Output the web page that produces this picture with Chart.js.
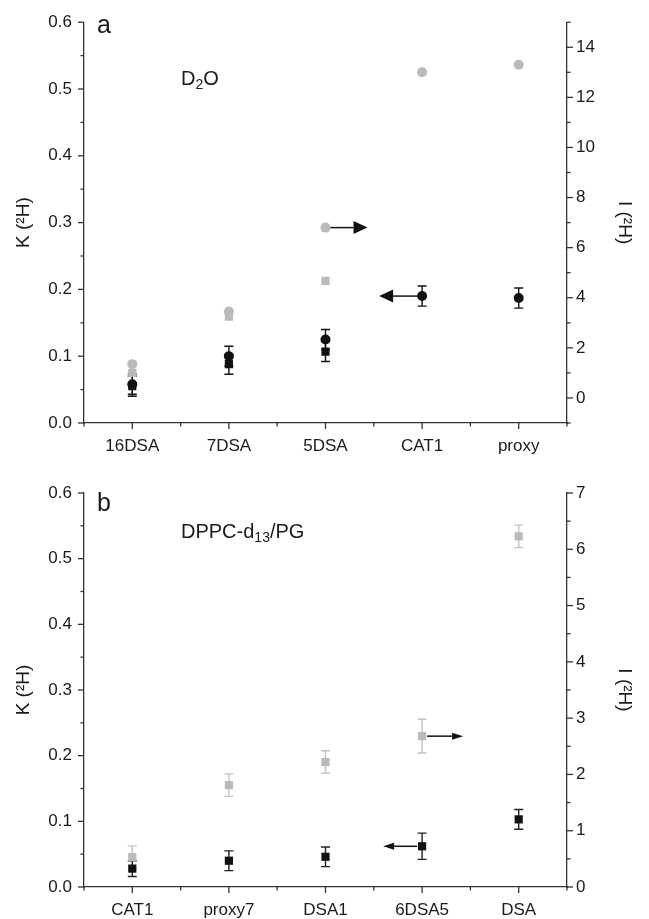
<!DOCTYPE html>
<html>
<head>
<meta charset="utf-8">
<script src="https://cdn.jsdelivr.net/npm/chart.js@4.4.1/dist/chart.umd.min.js"></script>
<style>
  body { margin: 0; background: #fff; }
  #wrap { position: relative; width: 649px; height: 919px; font-family: "Liberation Sans", Arial, sans-serif; color: #1a1a1a; }
  .box { position: absolute; left: 0; width: 649px; }
  .lbl { position: absolute; white-space: nowrap; line-height: 1; }
  .lbl sub { font-size: 70%; vertical-align: -0.3em; line-height: 0; }
</style>
</head>
<body>
<div id="wrap">
  <div class="box" style="top:0;height:460px"><canvas id="chartA"></canvas></div>
  <div class="box" style="top:460px;height:459px"><canvas id="chartB"></canvas></div>
  <div class="lbl" style="left:97px;top:12px;font-size:25px">a</div>
  <div class="lbl" style="left:181px;top:68px;font-size:20px">D<sub>2</sub>O</div>
  <div class="lbl" style="left:97px;top:490px;font-size:25px">b</div>
  <div class="lbl" style="left:181px;top:521px;font-size:20px">DPPC-d<sub>13</sub>/PG</div>
</div>
<script>
// ---- data (panel a, D2O) ----
const probesA = ['16DSA', '7DSA', '5DSA', 'CAT1', 'proxy'];
const kCircleA = [0.058, 0.100, 0.125, 0.190, 0.187];
const kCircleErrA = [0.015, 0.015, 0.015, 0.015, 0.015];
const kSquareA = [0.055, 0.088, 0.107, null, null];
const kSquareErrA = [0.015, 0.015, 0.015, 0, 0];
const iCircleA = [1.35, 3.45, 6.8, 13.0, 13.3];
const iSquareA = [1.0, 3.25, 4.67, null, null];
const leftTicksA = [0, 0.1, 0.2, 0.3, 0.4, 0.5, 0.6];
const rightTicksA = [0, 2, 4, 6, 8, 10, 12, 14];

// ---- data (panel b, DPPC-d13/PG) ----
const probesB = ['CAT1', 'proxy7', 'DSA1', '6DSA5', 'DSA'];
const kSquareB = [0.028, 0.040, 0.046, 0.062, 0.103];
const kSquareErrB = [0.012, 0.015, 0.015, 0.020, 0.015];
const iSquareB = [0.53, 1.81, 2.22, 2.68, 6.23];
const iSquareErrB = [0.2, 0.2, 0.2, 0.3, 0.2];
const leftTicksB = [0, 0.1, 0.2, 0.3, 0.4, 0.5, 0.6];
const rightTicksB = [0, 1, 2, 3, 4, 5, 6, 7];

const BLACK = '#111';
const GRAY = '#bababa';
const FONT = "'Liberation Sans', Arial, sans-serif";

const toPoints = (vals, errs) => {
  let pts = [];
  for (let i = 0; i < vals.length; i++) {
    if (vals[i] == null) continue;
    pts.push({ x: i + 1, y: vals[i], err: errs ? errs[i] : 0 });
  }
  return pts;
};

// error bars + arrows + outward ticks, all through the chart scales
const extras = {
  id: 'extras',
  beforeDatasetsDraw(chart, args, opts) {
    const ctx = chart.ctx;
    chart.data.datasets.forEach((ds) => {
      const ys = chart.scales[ds.yAxisID];
      const xs = chart.scales.x;
      ctx.save();
      ctx.strokeStyle = ds.errColor || ds.backgroundColor;
      ctx.lineWidth = 1.4;
      ds.data.forEach((p) => {
        if (!p.err) return;
        const x = xs.getPixelForValue(p.x);
        const y1 = ys.getPixelForValue(p.y + p.err);
        const y2 = ys.getPixelForValue(p.y - p.err);
        ctx.beginPath();
        ctx.moveTo(x, y1); ctx.lineTo(x, y2);
        ctx.moveTo(x - 4.5, y1); ctx.lineTo(x + 4.5, y1);
        ctx.moveTo(x - 4.5, y2); ctx.lineTo(x + 4.5, y2);
        ctx.stroke();
      });
      ctx.restore();
    });
  },
  afterDraw(chart, args, opts) {
    const ctx = chart.ctx;
    ctx.save();
    ctx.strokeStyle = '#333';
    ctx.lineWidth = 1.3;
    // ticks
    (opts.ticks || []).forEach((t) => {
      const s = chart.scales[t.id];
      const vals = [];
      for (let v = s.min; v <= s.max + 1e-9; v += t.minor) vals.push(+v.toFixed(6));
      vals.forEach((v) => {
        const major = t.major.some((m) => Math.abs(m - v) < 1e-6);
        const len = major ? 6 : 3.5;
        const p = s.getPixelForValue(v);
        ctx.beginPath();
        if (s.position === 'left') { ctx.moveTo(s.right, p); ctx.lineTo(s.right - len, p); }
        else if (s.position === 'right') { ctx.moveTo(s.left, p); ctx.lineTo(s.left + len, p); }
        else { ctx.moveTo(p, s.top); ctx.lineTo(p, s.top + len); }
        ctx.stroke();
      });
    });
    // arrows pointing to the axis each series belongs to
    (opts.arrows || []).forEach((a) => {
      const ds = chart.data.datasets[a.dataset];
      const pt = ds.data[a.index];
      const x0 = chart.scales.x.getPixelForValue(pt.x);
      const y0 = chart.scales[ds.yAxisID].getPixelForValue(pt.y);
      const x1 = x0 + a.dir * a.len;
      ctx.strokeStyle = BLACK;
      ctx.fillStyle = BLACK;
      ctx.lineWidth = 1.5;
      ctx.beginPath();
      ctx.moveTo(x0 + a.dir * 5, y0);
      ctx.lineTo(x1 - a.dir * a.head, y0);
      ctx.stroke();
      ctx.beginPath();
      ctx.moveTo(x1, y0);
      ctx.lineTo(x1 - a.dir * a.head, y0 - a.half);
      ctx.lineTo(x1 - a.dir * a.head, y0 + a.half);
      ctx.closePath();
      ctx.fill();
    });
    ctx.restore();
  }
};

const makeOptions = (cfg) => ({
  responsive: true,
  maintainAspectRatio: false,
  animation: false,
  events: [],
  layout: { padding: { top: cfg.top, left: 0, right: 0, bottom: 0 } },
  plugins: {
    legend: { display: false },
    tooltip: { enabled: false },
    extras: { ticks: cfg.ticks, arrows: cfg.arrows }
  },
  scales: {
    x: {
      type: 'linear',
      min: 0.5,
      max: 5.5,
      afterFit: (s) => { s.height = cfg.xHeight; },
      afterBuildTicks: (s) => { s.ticks = cfg.labels.map((l, i) => ({ value: i + 1 })); },
      grid: { display: false, drawTicks: false },
      border: { display: true, color: '#333', width: 1.3 },
      ticks: {
        padding: 13,
        color: '#1a1a1a',
        font: { family: FONT, size: 17 },
        callback: (v) => cfg.labels[v - 1]
      }
    },
    y: {
      position: 'left',
      min: 0,
      max: 0.6,
      afterFit: (s) => { s.width = 84; },
      afterBuildTicks: (s) => { s.ticks = cfg.leftTicks.map((v) => ({ value: v })); },
      grid: { display: false, drawTicks: false },
      border: { display: true, color: '#333', width: 1.3 },
      ticks: {
        padding: 12,
        color: '#1a1a1a',
        font: { family: FONT, size: 17 },
        callback: (v) => v.toFixed(1)
      },
      title: {
        display: true,
        text: 'K (²H)',
        color: '#1a1a1a',
        padding: { top: 12, bottom: 0 },
        font: { family: FONT, size: 19 }
      }
    },
    y2: {
      position: 'right',
      min: cfg.rMin,
      max: cfg.rMax,
      afterFit: (s) => { s.width = 82; },
      afterBuildTicks: (s) => { s.ticks = cfg.rightTicks.map((v) => ({ value: v })); },
      grid: { display: false, drawTicks: false },
      border: { display: true, color: '#333', width: 1.3 },
      ticks: {
        padding: 9,
        color: '#1a1a1a',
        font: { family: FONT, size: 17 },
        callback: (v) => String(v)
      },
      title: {
        display: true,
        text: 'I (²H)',
        color: '#1a1a1a',
        padding: { top: 13, bottom: 0 },
        font: { family: FONT, size: 19 }
      }
    }
  }
});

const series = (pts, axis, style, color, radius, errColor) => ({
  data: pts,
  yAxisID: axis,
  pointStyle: style,
  pointRadius: radius,
  backgroundColor: color,
  borderColor: color,
  borderWidth: 0,
  errColor: errColor,
  showLine: false
});

new Chart(document.getElementById('chartA'), {
  type: 'scatter',
  data: {
    datasets: [
      series(toPoints(iSquareA), 'y2', 'rect', GRAY, 5.8),
      series(toPoints(iCircleA), 'y2', 'circle', GRAY, 5),
      series(toPoints(kSquareA, kSquareErrA), 'y', 'rect', BLACK, 5.8),
      series(toPoints(kCircleA, kCircleErrA), 'y', 'circle', BLACK, 5)
    ]
  },
  options: makeOptions({
    top: 22, xHeight: 37, labels: probesA,
    leftTicks: leftTicksA, rightTicks: rightTicksA, rMin: -1, rMax: 15,
    ticks: [
      { id: 'x', minor: 0.5, major: [1, 2, 3, 4, 5] },
      { id: 'y', minor: 0.05, major: leftTicksA },
      { id: 'y2', minor: 1, major: rightTicksA }
    ],
    arrows: [
      { dataset: 1, index: 2, dir: 1, len: 42, head: 14, half: 6.5 },
      { dataset: 3, index: 3, dir: -1, len: 43, head: 14, half: 6.5 }
    ]
  }),
  plugins: [extras]
});

new Chart(document.getElementById('chartB'), {
  type: 'scatter',
  data: {
    datasets: [
      series(toPoints(iSquareB, iSquareErrB), 'y2', 'rect', GRAY, 5.8, '#c4c4c4'),
      series(toPoints(kSquareB, kSquareErrB), 'y', 'rect', BLACK, 5.8, '#222')
    ]
  },
  options: makeOptions({
    top: 33, xHeight: 32, labels: probesB,
    leftTicks: leftTicksB, rightTicks: rightTicksB, rMin: 0, rMax: 7,
    ticks: [
      { id: 'x', minor: 0.5, major: [1, 2, 3, 4, 5] },
      { id: 'y', minor: 0.05, major: leftTicksB },
      { id: 'y2', minor: 0.5, major: rightTicksB }
    ],
    arrows: [
      { dataset: 0, index: 3, dir: 1, len: 41, head: 11, half: 3.5 },
      { dataset: 1, index: 3, dir: -1, len: 39, head: 11, half: 3.5 }
    ]
  }),
  plugins: [extras]
});
</script>
</body>
</html>
